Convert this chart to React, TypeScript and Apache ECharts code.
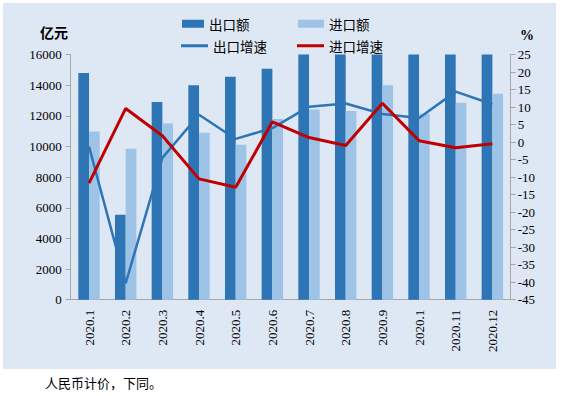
import React, { useEffect, useRef } from "react";
import * as echarts from "echarts";

const categories = ["2020.1", "2020.2", "2020.3", "2020.4", "2020.5", "2020.6", "2020.7", "2020.8", "2020.9", "2020.1", "2020.11", "2020.12"];
const exportValues = [14800, 5550, 12900, 14000, 14550, 15070, 16000, 16000, 16000, 16000, 16000, 16000];
const importValues = [10980, 9850, 11500, 10890, 10110, 11790, 12410, 12310, 14000, 12130, 12850, 13440];
const exportGrowth = [-1.3, -40.3, -4.5, 7.8, 0.9, 4.0, 10.1, 11.0, 8.0, 6.9, 14.4, 10.8];
const importGrowth = [-11.7, 9.6, 1.8, -10.5, -12.9, 5.8, 1.3, -1.0, 11.1, 0.4, -1.6, -0.5];

const C_EXP = "#2e75b6";
const C_IMP = "#9dc3e6";
const C_RED = "#c00000";
const AXIS = "#a6a6a6";
const SERIF = "'Liberation Serif', 'Times New Roman', serif";
const CJK = "'Noto Sans CJK SC', sans-serif";

export default function App() {
  const ref = useRef<HTMLDivElement>(null);
  useEffect(() => {
    document.body.style.margin = "0";
    const chart = echarts.init(ref.current!, null, { renderer: "svg" });
    const legendBase = {
      orient: "horizontal",
      padding: 0,
      itemGap: 0,
      textStyle: { fontFamily: CJK, fontSize: 13.5, color: "#000", padding: [0, 0, 0, 0] },
    };
    chart.setOption({
      animation: false,
      backgroundColor: "#ffffff",
      graphic: [
        { type: "rect", z: -10, shape: { x: 3, y: 3, width: 553, height: 366 }, style: { fill: "#dee8f5" } },
        { type: "text", x: 54, y: 32, style: { text: "亿元", fontFamily: CJK, fontSize: 14, fontWeight: "bold", fill: "#000", textAlign: "center", textVerticalAlign: "middle" } },
        { type: "text", x: 527, y: 35, style: { text: "%", fontFamily: SERIF, fontSize: 14, fontWeight: "bold", fill: "#000", textAlign: "center", textVerticalAlign: "middle" } },
        { type: "text", x: 45, y: 382, style: { text: "人民币计价，下同。", fontFamily: CJK, fontSize: 13, fill: "#000", textVerticalAlign: "middle" } },
      ],
      legend: [
        { ...legendBase, left: 182, top: 17, itemWidth: 22, itemHeight: 8, data: [{ name: "出口额", icon: "rect" }] },
        { ...legendBase, left: 298, top: 17, itemWidth: 26, itemHeight: 8, data: [{ name: "进口额", icon: "rect" }] },
        { ...legendBase, left: 181, top: 39, itemWidth: 27, itemHeight: 3, data: [{ name: "出口增速", icon: "rect" }] },
        { ...legendBase, left: 297, top: 39, itemWidth: 27, itemHeight: 3, data: [{ name: "进口增速", icon: "rect" }] },
      ],
      grid: { left: 70.7, right: 53.3, top: 54.5, bottom: 96.3, containLabel: false },
      xAxis: {
        type: "category",
        data: categories,
        axisLine: { lineStyle: { color: AXIS, width: 1 } },
        axisTick: { show: false },
        axisLabel: { rotate: 90, interval: 0, margin: 10, fontFamily: SERIF, fontSize: 13, color: "#000" },
      },
      yAxis: [
        {
          type: "value",
          min: 0,
          max: 16000,
          interval: 2000,
          splitLine: { show: false },
          axisLine: { show: true, lineStyle: { color: AXIS } },
          axisTick: { show: true, length: 5, lineStyle: { color: AXIS } },
          axisLabel: { fontFamily: SERIF, fontSize: 13, color: "#000", margin: 9, formatter: (v: number) => String(v) },
        },
        {
          type: "value",
          min: -45,
          max: 25,
          interval: 5,
          position: "right",
          splitLine: { show: false },
          axisLine: { show: true, lineStyle: { color: AXIS } },
          axisTick: { show: true, length: 5, lineStyle: { color: AXIS } },
          axisLabel: { fontFamily: SERIF, fontSize: 13, color: "#000", margin: 7 },
        },
      ],
      series: [
        { name: "出口额", type: "bar", data: exportValues, barWidth: 10.7, barGap: "0%", itemStyle: { color: C_EXP }, yAxisIndex: 0 },
        { name: "进口额", type: "bar", data: importValues, barWidth: 10.7, barGap: "0%", itemStyle: { color: C_IMP }, yAxisIndex: 0 },
        { name: "出口增速", type: "line", data: exportGrowth, yAxisIndex: 1, symbol: "none", showSymbol: false, lineStyle: { color: C_EXP, width: 2.5 }, itemStyle: { color: C_EXP } },
        { name: "进口增速", type: "line", data: importGrowth, yAxisIndex: 1, symbol: "none", showSymbol: false, lineStyle: { color: C_RED, width: 3 }, itemStyle: { color: C_RED } },
      ],
    });
    return () => chart.dispose();
  }, []);
  return <div ref={ref} style={{ position: "absolute", left: 0, top: 0, width: 564, height: 396 }} />;
}
